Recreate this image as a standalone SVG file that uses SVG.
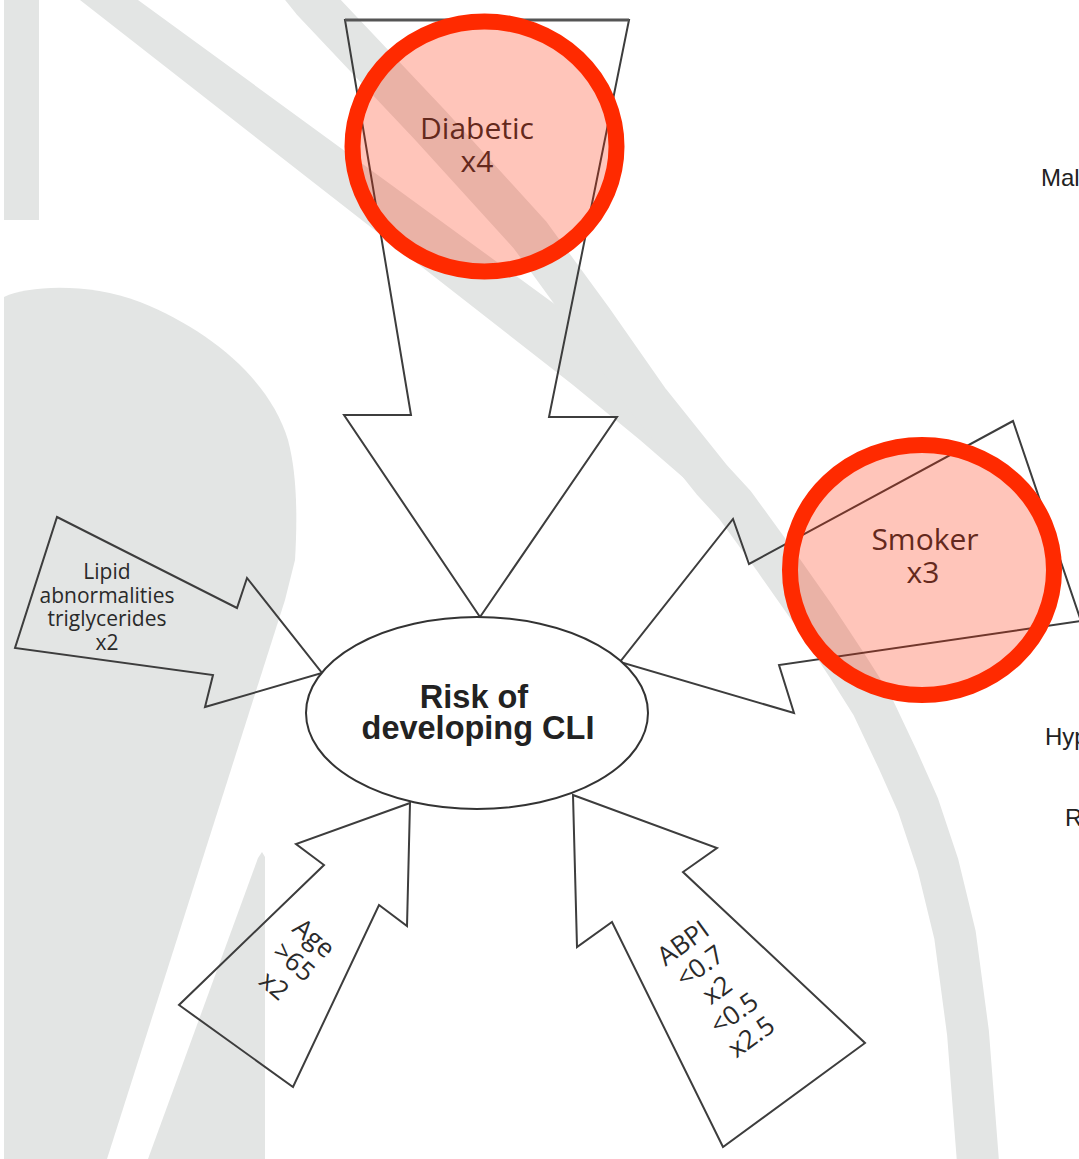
<svg xmlns="http://www.w3.org/2000/svg" width="1079" height="1159" viewBox="0 0 1079 1159">
  <style>
    .bg { fill: #e3e5e4; }
    .band { fill: none; stroke: #e3e5e4; stroke-linejoin: round; }
    .arrow { fill: none; stroke: #3d3d3d; stroke-width: 2; stroke-linejoin: miter; }
    .lbl { font-family: "Open Sans", "Noto Sans", sans-serif; fill: #2a2a2a; text-anchor: middle; }
    .hel { font-family: "Liberation Sans", Arial, sans-serif; fill: #222; }
    .mark { fill: #ff2a00; fill-opacity: 0.27; stroke: #ff2a00; stroke-width: 16; }
  </style>
  <rect width="1079" height="1159" fill="#ffffff"/>

  <g id="background">
    <rect class="bg" x="4" y="0" width="35" height="220"/>
    <path class="bg" d="M4,1159 L4,297 C30,285 90,283 140,302 C210,330 270,380 288,440 C296,470 298,510 295,560 L285,600 L107,1159 Z"/>
    <path class="bg" d="M148,1159 L258,858 L262,852 L265,857 L265,1159 Z"/>
    <polygon class="bg" points="80,0 138,0 560,308 640,380 720,480 700,492 640,440 573,385"/>
    <polyline class="band" stroke-width="42" points="300,-15 312,0 430,125 530,235 592,320 648,400 712,480 735,505 775,560 815,617 848,667 872,705 898,760 918,805 938,865 955,935 968,1033 979,1175"/>
  </g>

  <g id="connectors"></g>

  <g id="node-diabetic">
    <polygon class="arrow" points="345,20 629,20 549,417 617,417 480,617 344,415 411,415"/>
    <line x1="345" y1="20" x2="629" y2="20" stroke="#555" stroke-width="3"/>
    <text class="lbl" font-size="30" x="477" y="139">Diabetic</text>
    <text class="lbl" font-size="30" x="477" y="172">x4</text>
  </g>

  <g id="node-smoker">
    <polygon class="arrow" points="1013,421 749,564 733,519 620,662 794,713 779,665 1081,621"/>
    <text class="lbl" font-size="30" x="925" y="550">Smoker</text>
    <text class="lbl" font-size="30" x="923" y="583">x3</text>
  </g>

  <g id="node-lipid">
    <polygon class="arrow" points="57,517 237,608 247,578 322,673 205,707 213,675 15,648"/>
    <text class="lbl" font-size="21" x="107" y="579">Lipid</text>
    <text class="lbl" font-size="21" x="107" y="603">abnormalities</text>
    <text class="lbl" font-size="21" x="107" y="626">triglycerides</text>
    <text class="lbl" font-size="21" x="107" y="650">x2</text>
  </g>

  <g id="node-age">
    <polygon class="arrow" points="410,803 407,926 379,905 293,1087 179,1005 324,865 296,844"/>
    <g transform="translate(314,938) rotate(40)">
      <text class="lbl" font-size="26" x="0" y="9">Age</text>
      <text class="lbl" font-size="26" x="0" y="40">&gt;65</text>
      <text class="lbl" font-size="26" x="0" y="71">x2</text>
    </g>
  </g>

  <g id="node-abpi">
    <polygon class="arrow" points="573,795 577,947 612,922 723,1147 865,1043 683,872 717,848"/>
    <g transform="translate(683,943) rotate(-36)">
      <text class="lbl" font-size="26" x="0" y="9">ABPI</text>
      <text class="lbl" font-size="26" x="0" y="38">&lt;0.7</text>
      <text class="lbl" font-size="26" x="0" y="67">x2</text>
      <text class="lbl" font-size="26" x="0" y="96">&lt;0.5</text>
      <text class="lbl" font-size="26" x="0" y="125">x2.5</text>
    </g>
  </g>

  <g id="node-risk">
    <ellipse cx="477" cy="713" rx="171" ry="96" fill="#ffffff" stroke="#333" stroke-width="2"/>
    <text class="hel" font-size="32.5" font-weight="bold" text-anchor="middle" x="474" y="708">Risk of</text>
    <text class="hel" font-size="32.5" font-weight="bold" text-anchor="middle" x="478" y="739">developing CLI</text>
  </g>

  <g id="edge-labels">
    <text class="hel" font-size="24" x="1041" y="186">Mal</text>
    <text class="hel" font-size="24" x="1045" y="745">Hyp</text>
    <text class="hel" font-size="24" x="1065" y="826">R</text>
  </g>

  <g id="annotations">
    <ellipse class="mark" cx="484.5" cy="146.5" rx="132" ry="125"/>
    <ellipse class="mark" cx="922" cy="570" rx="132" ry="125"/>
  </g>
</svg>
